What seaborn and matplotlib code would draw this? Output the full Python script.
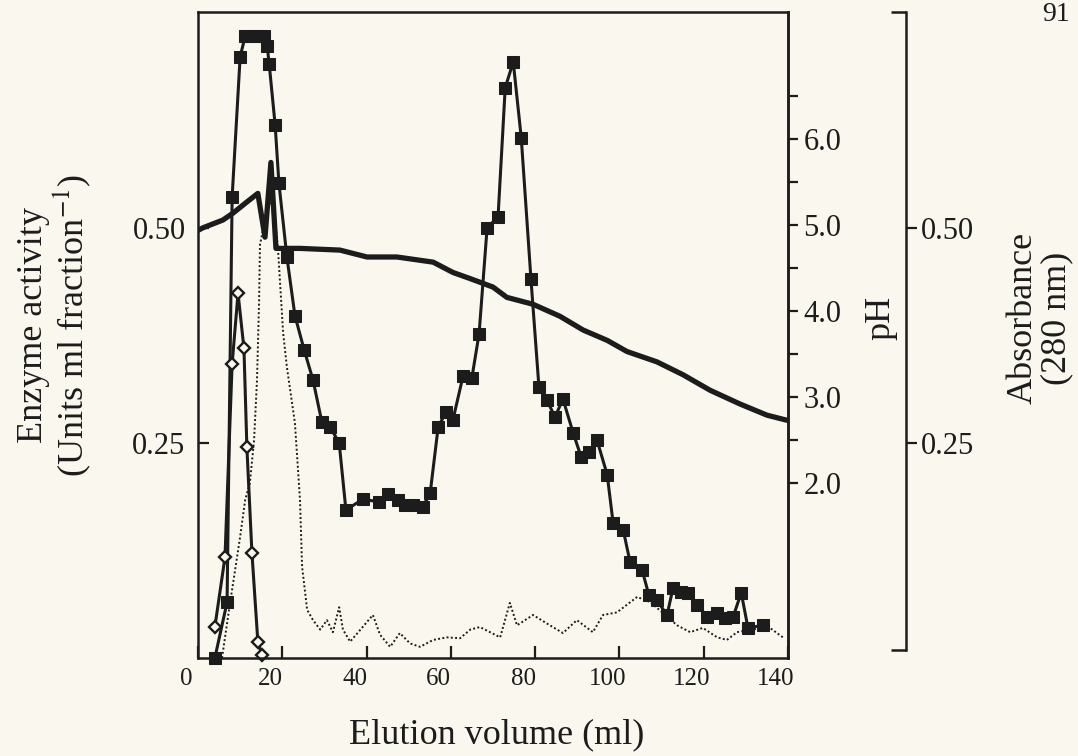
import matplotlib
matplotlib.use("Agg")
import matplotlib.pyplot as plt
import matplotlib.transforms as mtransforms
from matplotlib.ticker import FixedLocator
import seaborn as sns

# ---- elution profile data -------------------------------------------------
# enzyme activity, main peaks (filled squares)
activity_ml = [4.0, 6.9, 8.1, 10.0, 11.2, 12.8, 14.2, 15.7, 16.4, 16.9,
               18.3, 19.2, 21.1, 23.0, 25.2, 27.3, 29.4, 31.3, 33.5, 35.1,
               39.2, 43.0, 45.1, 47.5, 49.1, 51.0, 53.4, 55.1, 57.0, 58.9,
               60.5, 62.9, 65.0, 66.7, 68.6, 71.2, 72.9, 74.8, 76.7, 79.0,
               80.9, 82.8, 84.7, 86.6, 89.0, 90.9, 92.8, 94.7, 97.1, 98.5,
               100.9, 102.5, 105.4, 107.0, 108.9, 111.3, 112.7, 114.6, 116.3, 118.4,
               120.8, 123.2, 125.1, 127.0, 128.9, 130.5, 134.1]
activity = [0.000, 0.065, 0.536, 0.699, 0.723, 0.723, 0.723, 0.723, 0.712, 0.690,
            0.620, 0.552, 0.466, 0.398, 0.358, 0.323, 0.274, 0.269, 0.250, 0.172,
            0.185, 0.181, 0.191, 0.184, 0.178, 0.178, 0.176, 0.192, 0.269, 0.286,
            0.277, 0.328, 0.326, 0.377, 0.500, 0.513, 0.663, 0.693, 0.605, 0.441,
            0.315, 0.300, 0.280, 0.301, 0.262, 0.234, 0.240, 0.253, 0.213, 0.157,
            0.149, 0.112, 0.102, 0.073, 0.067, 0.050, 0.081, 0.077, 0.076, 0.062,
            0.048, 0.052, 0.047, 0.048, 0.076, 0.035, 0.038]

# second activity (open diamonds)
diamond_ml = [4.0, 6.4, 8.1, 9.5, 10.9, 11.6, 12.8, 14.2, 15.2]
diamond_act = [0.036, 0.117, 0.342, 0.424, 0.360, 0.245, 0.122, 0.019, 0.003]

# pH gradient
ph_ml = [0.0, 1.2, 5.9, 8.3, 11.6, 14.2, 15.9, 17.3, 18.5, 24.2,
         33.7, 40.1, 47.2, 55.8, 60.5, 64.5, 70.0, 73.3, 79.5, 85.9,
         91.4, 97.1, 101.8, 108.9, 115.1, 121.5, 128.6, 135.0, 139.8]
ph = [4.94, 4.97, 5.06, 5.14, 5.27, 5.37, 4.86, 5.73, 4.73, 4.73,
      4.71, 4.63, 4.63, 4.57, 4.45, 4.38, 4.28, 4.16, 4.08, 3.94,
      3.78, 3.66, 3.53, 3.41, 3.26, 3.08, 2.92, 2.79, 2.73]

# protein absorbance at 280 nm (dotted trace)
abs_ml = [5.7, 7.6, 8.8, 10.0, 11.2, 12.3, 13.3, 14.0, 14.5, 14.7,
          16.1, 17.8, 19.0, 20.2, 21.1, 23.0, 24.2, 24.7, 25.9, 27.3,
          29.0, 30.6, 32.0, 33.5, 34.4, 36.1, 38.9, 41.5, 43.2, 45.6,
          47.9, 50.3, 52.7, 55.8, 59.1, 62.2, 64.6, 66.9, 71.7, 74.0,
          75.7, 79.5, 83.5, 86.6, 89.9, 93.7, 96.1, 99.4, 104.2, 107.3,
          110.4, 113.7, 116.8, 119.8, 123.2, 125.5, 127.9, 131.0, 135.7, 138.8]
absorbance = [0.000, 0.064, 0.102, 0.141, 0.184, 0.203, 0.253, 0.323, 0.416, 0.480,
              0.515, 0.536, 0.474, 0.378, 0.338, 0.273, 0.184, 0.106, 0.056, 0.044,
              0.033, 0.044, 0.030, 0.059, 0.033, 0.019, 0.035, 0.050, 0.027, 0.013,
              0.029, 0.017, 0.013, 0.021, 0.024, 0.023, 0.033, 0.036, 0.024, 0.064,
              0.038, 0.050, 0.038, 0.029, 0.044, 0.030, 0.050, 0.053, 0.071, 0.065,
              0.052, 0.038, 0.030, 0.035, 0.024, 0.021, 0.030, 0.033, 0.035, 0.024]

x_ticks = [0, 20, 40, 60, 80, 100, 120, 140]
activity_ticks = [0.25, 0.50]
ph_ticks = [2.0, 3.0, 4.0, 5.0, 6.0]
ph_minor_ticks = [2.5, 3.5, 4.5, 5.5, 6.5]
abs_ticks = [0.25, 0.50]

# ---- style ------------------------------------------------------------------
sns.set_theme(style="ticks")
paper = "#faf8ee"
ink = "#1c1c1c"
plt.rcParams.update({
    "font.family": ["Liberation Serif", "DejaVu Serif"],
    "mathtext.fontset": "stix",
    "axes.edgecolor": ink,
    "text.color": ink,
    "xtick.color": ink,
    "ytick.color": ink,
    "axes.linewidth": 1.8,
})

fig = plt.figure(figsize=(10.78, 7.56), dpi=100, facecolor=paper)
ax = fig.add_axes([198 / 1078, 98 / 756, 590 / 1078, 646 / 756])
ax_ph = ax.twinx()
ax_abs = ax.twinx()

ax_abs.set_zorder(1)
ax_ph.set_zorder(2)
ax.set_zorder(3)
for a in (ax, ax_ph, ax_abs):
    a.patch.set_visible(False)

# absorbance trace
sns.lineplot(x=abs_ml, y=absorbance, ax=ax_abs, color=ink, linestyle=(0, (1, 1.2)),
             linewidth=1.4, sort=False, estimator=None)
# pH gradient
sns.lineplot(x=ph_ml, y=ph, ax=ax_ph, color=ink, linewidth=3.8,
             sort=False, estimator=None, solid_joinstyle="round")
# enzyme activity
sns.lineplot(x=activity_ml, y=activity, ax=ax, color=ink, linewidth=2.2,
             marker="s", markersize=8, markerfacecolor=ink, markeredgecolor=ink,
             sort=False, estimator=None, clip_on=False)
sns.lineplot(x=diamond_ml, y=diamond_act, ax=ax, color=ink, linewidth=2.2,
             marker="D", markersize=6, markerfacecolor=paper, markeredgecolor=ink,
             markeredgewidth=1.7, sort=False, estimator=None, clip_on=False)

# main axes: elution volume / enzyme activity
ax.set_xlim(0, 140)
ax.set_ylim(0, 0.751)
ax.set_xlabel("")
ax.set_ylabel("")
ax.set_xticks(x_ticks)
ax.set_xticklabels([str(v) for v in x_ticks])
ax.set_yticks(activity_ticks)
ax.set_yticklabels([f"{v:.2f}" for v in activity_ticks])
ax.tick_params(axis="x", direction="in", length=9, width=1.6, labelsize=18, pad=7)
ax.tick_params(axis="y", direction="in", length=8, width=1.6, labelsize=22, pad=9)
for side in ("top", "right", "left", "bottom"):
    ax.spines[side].set_visible(True)
    ax.spines[side].set_linewidth(1.8)
shift = mtransforms.ScaledTranslation(-0.12, 0, fig.dpi_scale_trans)
for lab in ax.get_xticklabels():
    lab.set_transform(lab.get_transform() + shift)

# pH axis on the right edge of the box
ax_ph.set_ylim(-0.035, 7.48)
ax_ph.set_ylabel("")
ax_ph.set_yticks(ph_ticks)
ax_ph.set_yticklabels([f"{v:.1f}" for v in ph_ticks])
ax_ph.yaxis.set_minor_locator(FixedLocator(ph_minor_ticks))
ax_ph.tick_params(axis="y", which="both", direction="out", length=7, width=1.6,
                  labelsize=22, pad=4)
for side in ("top", "left", "bottom"):
    ax_ph.spines[side].set_visible(False)
ax_ph.spines["right"].set_linewidth(1.8)

# separate absorbance scale, drawn as a bracket
ax_abs.set_ylim(0, 0.751)
ax_abs.set_ylabel("")
ax_abs.set_yticks(abs_ticks)
ax_abs.set_yticklabels([f"{v:.2f}" for v in abs_ticks])
ax_abs.tick_params(axis="y", direction="out", length=8, width=1.6, labelsize=22, pad=3)
for side in ("top", "left", "bottom"):
    ax_abs.spines[side].set_visible(False)
ax_abs.spines["right"].set_position(("axes", 1.2))
ax_abs.spines["right"].set_linewidth(1.8)
ax_abs.spines["right"].set_bounds(0.009, 0.751)
cap = ax_abs.get_yaxis_transform()
for yv in (0.009, 0.751):
    ax_abs.plot([1.175, 1.2], [yv, yv], transform=cap, color=ink, lw=1.8,
                clip_on=False, solid_capstyle="butt")

# axis titles
fig.text(55 / 1078, 1 - 325 / 756, "Enzyme activity\n(Units ml fraction$^{-1}$)",
         rotation=90, ha="center", va="center", fontsize=26, linespacing=1.05,
         multialignment="center")
fig.text(497 / 1078, 1 - 735 / 756, "Elution volume (ml)", ha="center", va="center",
         fontsize=26)
fig.text(881 / 1078, 1 - 318 / 756, "pH", rotation=90, ha="center", va="center",
         fontsize=26)
fig.text(1040 / 1078, 1 - 318 / 756, "Absorbance\n(280 nm)", rotation=90,
         ha="center", va="center", fontsize=26, linespacing=1.0,
         multialignment="center")
fig.text(1056 / 1078, 1 - 2 / 756, "91", ha="center", va="top", fontsize=20)

fig.savefig("out.png", dpi=100, facecolor=paper)
